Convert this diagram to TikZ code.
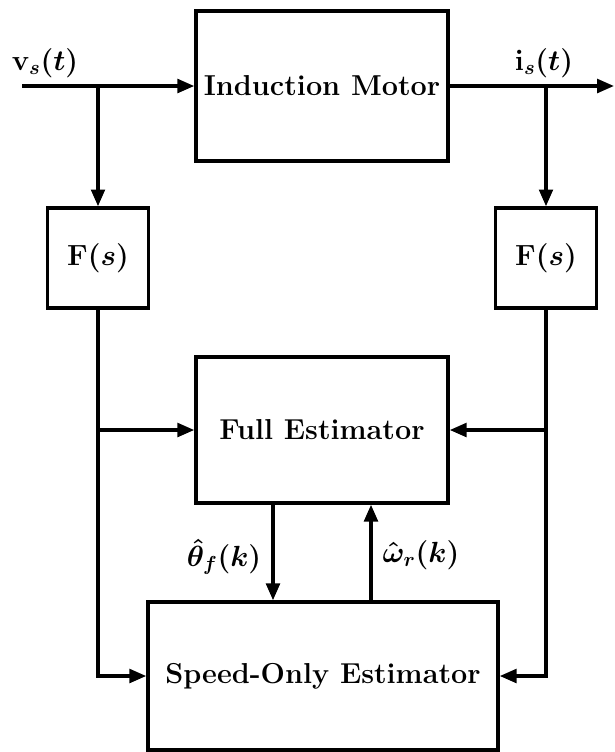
\documentclass[tikz,border=0pt]{standalone}
\usetikzlibrary{arrows.meta,calc}
\definecolor{LineClr}{rgb}{0,0,0}

\begin{document}
\begin{tikzpicture}[x=0.025cm,y=-0.025cm,
  blk/.style={draw=LineClr,line width=2.4pt,rectangle,inner sep=0pt,font=\fontsize{20.5}{24}\selectfont\bfseries\boldmath},
  wire/.style={draw=LineClr,line width=2.4pt},
  sig/.style={wire,-{Triangle[length=0.42cm,width=0.34cm]}},
  lbl/.style={inner sep=1pt,font=\fontsize{20.5}{24}\selectfont\boldmath}]
\useasboundingbox (0,0) rectangle (615,752);

\node[blk,minimum width=6.3cm,minimum height=3.75cm] (M) at (322,86) {Induction Motor};
\node[blk,minimum width=2.525cm,minimum height=2.5cm] (Fv) at (98,258) {$\mathbf{F}(s)$};
\node[blk,minimum width=2.525cm,minimum height=2.5cm] (Fi) at (546,258) {$\mathbf{F}(s)$};
\node[blk,minimum width=6.3cm,minimum height=3.65cm] (E) at (322,430) {Full Estimator};
\node[blk,minimum width=8.75cm,minimum height=3.7cm] (S) at (323,676) {Speed-Only Estimator};

\coordinate (vin) at (22,86);
\coordinate (iout) at (614,86);
\coordinate (vtap) at (Fv.north |- vin);
\coordinate (itap) at (Fi.north |- iout);
\coordinate (vmid) at (Fv.south |- E.west);
\coordinate (imid) at (Fi.south |- E.east);
\coordinate (vbot) at (Fv.south |- S.west);
\coordinate (ibot) at (Fi.south |- S.east);
\coordinate (th) at ($(E.south)+(-49,0)$);
\coordinate (wr) at ($(S.north)+(48,0)$);

\draw[sig] (vin) -- (M.west);
\draw[sig] (M.east) -- (iout);
\draw[sig] (vtap) -- (Fv.north);
\draw[sig] (itap) -- (Fi.north);
\draw[sig] (Fv.south) -- (vbot) -- (S.west);
\draw[sig] (Fi.south) -- (ibot) -- (S.east);
\draw[sig] (vmid) -- (E.west);
\draw[sig] (imid) -- (E.east);
\draw[sig] (th) -- (th |- S.north);
\draw[sig] (wr) -- (wr |- E.south);

\node[lbl] (vl) at (45,63) {$\mathbf{v}_s(t)$};
\node[lbl] (il) at (544,63) {$\mathbf{i}_s(t)$};
\node[lbl] (tl) at (224,557) {$\hat{\theta}_f(k)$};
\node[lbl] (wl) at (421,555) {$\hat{\omega}_r(k)$};

\end{tikzpicture}
\end{document}
